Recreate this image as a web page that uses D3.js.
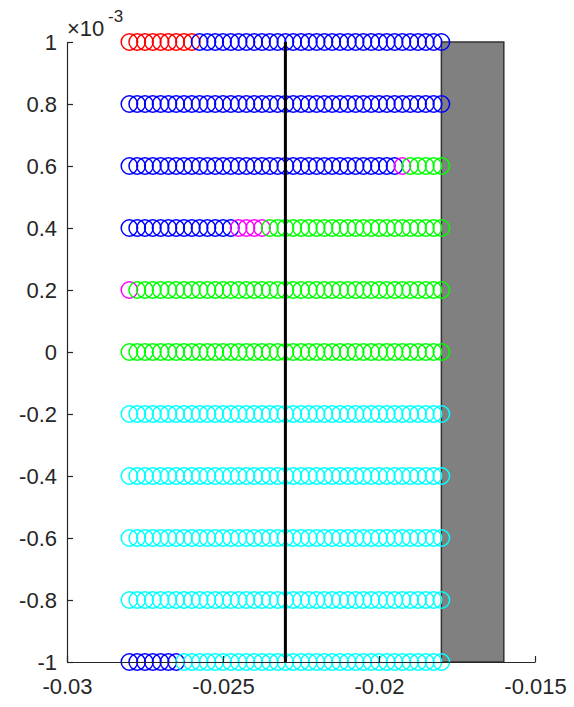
<!DOCTYPE html>
<html>
<head>
<meta charset="utf-8">
<script src="https://cdn.jsdelivr.net/npm/d3@7"></script>
<style>
  html, body { margin: 0; padding: 0; background: #fff; }
  svg { display: block; }
  text { font-family: "Liberation Sans", Arial, Helvetica, sans-serif; fill: #262626; }
</style>
</head>
<body>
<svg id="chart" width="574" height="707"></svg>
<script>
// Sample positions along each row (x, in metres)
const xPositions = [
  -0.028, -0.02775, -0.0275, -0.02725, -0.027, -0.02675, -0.0265, -0.02625,
  -0.026, -0.02575, -0.0255, -0.02525, -0.025, -0.02475, -0.0245, -0.02425,
  -0.024, -0.02375, -0.0235, -0.02325, -0.023, -0.02275, -0.0225, -0.02225,
  -0.022, -0.02175, -0.0215, -0.02125, -0.021, -0.02075, -0.0205, -0.02025,
  -0.02, -0.01975, -0.0195, -0.01925, -0.019, -0.01875, -0.0185, -0.01825, -0.018
];

// Row heights (y)
const rowLevels = [1e-3, 0.8e-3, 0.6e-3, 0.4e-3, 0.2e-3, 0, -0.2e-3, -0.4e-3, -0.6e-3, -0.8e-3, -1e-3];

// Phase of each sample, per row, as runs of [phase, count] from left to right
const rowPhases = [
  [["r", 9], ["b", 32]],
  [["b", 41]],
  [["b", 35], ["m", 1], ["g", 5]],
  [["b", 14], ["m", 4], ["g", 23]],
  [["m", 1], ["g", 40]],
  [["g", 41]],
  [["c", 41]],
  [["c", 41]],
  [["c", 41]],
  [["c", 41]],
  [["b", 7], ["c", 34]]
];

const phaseColors = { r: "#ff0000", b: "#0000ff", m: "#ff00ff", g: "#00ff00", c: "#00ffff" };

// Vertical divider and solid block
const dividerX = [-0.023];
const blockX = [-0.018, -0.016];
const blockY = [-1e-3, 1e-3];

const xDomain = [-0.03, -0.015];
const yDomain = [-1e-3, 1e-3];
const xTickValues = [-0.03, -0.025, -0.02, -0.015];
const xTickLabels = ["-0.03", "-0.025", "-0.02", "-0.015"];
const yTickValues = [-1e-3, -0.8e-3, -0.6e-3, -0.4e-3, -0.2e-3, 0, 0.2e-3, 0.4e-3, 0.6e-3, 0.8e-3, 1e-3];
const yTickLabels = ["-1", "-0.8", "-0.6", "-0.4", "-0.2", "0", "0.2", "0.4", "0.6", "0.8", "1"];

const margin = { left: 67, right: 39, top: 42, bottom: 45 };
const W = 574, H = 707;

const svg = d3.select("#chart");
const x = d3.scaleLinear().domain(xDomain).range([margin.left, W - margin.right]);
const y = d3.scaleLinear().domain(yDomain).range([H - margin.bottom, margin.top]);

// Expand runs into points
const points = [];
rowPhases.forEach((runs, ri) => {
  let i = 0;
  runs.forEach(([phase, n]) => {
    for (let k = 0; k < n; k++, i++) {
      points.push({ x: xPositions[i], y: rowLevels[ri], phase });
    }
  });
});

const plot = svg.append("g");

// Solid block
plot.append("rect")
  .attr("x", x(blockX[0]))
  .attr("y", y(blockY[1]))
  .attr("width", x(blockX[1]) - x(blockX[0]))
  .attr("height", y(blockY[0]) - y(blockY[1]))
  .attr("fill", "#808080")
  .attr("stroke", "#333")
  .attr("stroke-width", 1.5);

plot.selectAll("circle.pt")
  .data(points)
  .join("circle")
  .attr("class", "pt")
  .attr("cx", d => x(d.x))
  .attr("cy", d => y(d.y))
  .attr("r", 8.2)
  .attr("fill", "none")
  .attr("stroke", d => phaseColors[d.phase])
  .attr("stroke-width", 1.5);

// Divider line
plot.selectAll("line.divider")
  .data(dividerX)
  .join("line")
  .attr("class", "divider")
  .attr("x1", d => x(d)).attr("x2", d => x(d))
  .attr("y1", y(yDomain[0])).attr("y2", y(yDomain[1]))
  .attr("stroke", "#000").attr("stroke-width", 3);

// Axes
const xAxis = d3.axisBottom(x).tickValues(xTickValues)
  .tickFormat((d, i) => xTickLabels[i]).tickSizeInner(-6).tickSizeOuter(0).tickPadding(16);
const yAxis = d3.axisLeft(y).tickValues(yTickValues)
  .tickFormat((d, i) => yTickLabels[i]).tickSizeInner(-6).tickSizeOuter(0).tickPadding(10);

const gx = svg.append("g").attr("transform", `translate(0,${H - margin.bottom})`).call(xAxis);
const gy = svg.append("g").attr("transform", `translate(${margin.left},0)`).call(yAxis);

[gx, gy].forEach(g => {
  g.select(".domain").attr("stroke", "#262626").attr("stroke-width", 1.2);
  g.selectAll(".tick line").attr("stroke", "#262626").attr("stroke-width", 1.2);
  g.selectAll(".tick text")
    .style("font-size", "22px")
    .style("font-family", "'Liberation Sans', Arial, sans-serif")
    .attr("fill", "#262626");
});

// Exponent label: "×10" with a raised "-3"
svg.append("text")
  .attr("x", margin.left)
  .attr("y", 36)
  .attr("font-size", 22)
  .style("font-size", "22px")
  .text("×10");
svg.append("text")
  .attr("x", margin.left + 41)
  .attr("y", 22)
  .attr("font-size", 17)
  .style("font-size", "17px")
  .text("-3");
</script>
</body>
</html>
